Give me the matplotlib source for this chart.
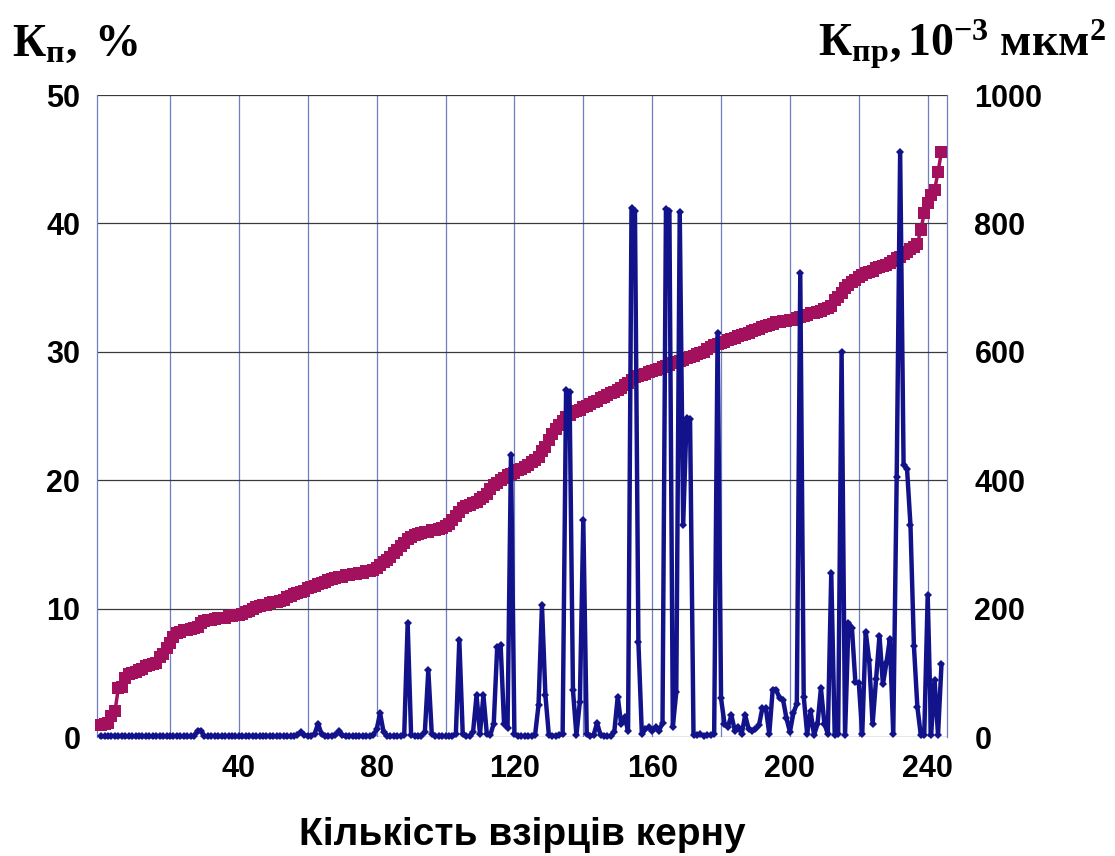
import numpy as np
import matplotlib
matplotlib.use("Agg")
from matplotlib import pyplot as plt

# porosity (left axis, %), sorted ascending
kp = [0.9, 1.0, 1.1, 1.6, 2.0, 3.8, 3.9, 4.6, 4.9, 5.0,
      5.1, 5.2, 5.3, 5.5, 5.6, 5.7, 5.8, 6.2, 6.5, 6.9,
      7.3, 7.8, 8.1, 8.2, 8.3, 8.3, 8.4, 8.5, 8.6, 8.9,
      9.0, 9.1, 9.1, 9.2, 9.3, 9.3, 9.3, 9.4, 9.4, 9.5,
      9.5, 9.6, 9.7, 9.8, 10.0, 10.1, 10.2, 10.3, 10.3, 10.4,
      10.5, 10.5, 10.6, 10.7, 10.9, 11.0, 11.1, 11.2, 11.3, 11.4,
      11.6, 11.7, 11.8, 11.9, 12.0, 12.1, 12.2, 12.3, 12.4, 12.5,
      12.5, 12.6, 12.6, 12.7, 12.7, 12.8, 12.8, 12.9, 12.9, 13.0,
      13.2, 13.4, 13.6, 13.8, 14.0, 14.3, 14.6, 14.9, 15.1, 15.4,
      15.6, 15.7, 15.8, 15.9, 16.0, 16.0, 16.1, 16.1, 16.2, 16.3,
      16.4, 16.6, 16.9, 17.2, 17.5, 17.8, 18.0, 18.1, 18.2, 18.3,
      18.5, 18.7, 18.9, 19.3, 19.6, 19.8, 20.0, 20.2, 20.4, 20.5,
      20.6, 20.8, 20.9, 21.0, 21.2, 21.4, 21.6, 21.8, 22.3, 22.6,
      23.1, 23.6, 24.0, 24.3, 24.6, 24.9, 25.1, 25.3, 25.4, 25.5,
      25.7, 25.8, 25.9, 26.1, 26.2, 26.4, 26.5, 26.6, 26.8, 26.9,
      27.0, 27.2, 27.4, 27.6, 27.8, 28.0, 28.1, 28.2, 28.3, 28.4,
      28.5, 28.6, 28.7, 28.8, 28.9, 29.0, 29.1, 29.2, 29.3, 29.4,
      29.5, 29.6, 29.7, 29.8, 29.9, 30.0, 30.2, 30.4, 30.5, 30.6,
      30.7, 30.8, 30.9, 31.0, 31.1, 31.2, 31.3, 31.4, 31.5, 31.6,
      31.7, 31.8, 31.9, 32.0, 32.1, 32.2, 32.3, 32.3, 32.4, 32.4,
      32.5, 32.5, 32.6, 32.7, 32.8, 32.9, 33.0, 33.0, 33.1, 33.2,
      33.3, 33.4, 33.6, 34.0, 34.3, 34.6, 35.0, 35.2, 35.4, 35.6,
      35.8, 36.0, 36.1, 36.2, 36.3, 36.5, 36.6, 36.7, 36.8, 36.9,
      37.1, 37.3, 37.4, 37.6, 37.8, 38.0, 38.2, 38.4, 39.5, 40.8,
      41.6, 42.2, 42.6, 44.0, 45.6]

# permeability (right axis, 10^-3 um^2), same samples
kpr = [1, 1, 1, 2, 1, 1, 2, 1, 1, 1,
       1, 2, 1, 1, 1, 1, 2, 1, 1, 1,
       1, 1, 2, 1, 1, 1, 1, 1, 10, 10,
       1, 1, 2, 1, 1, 1, 1, 2, 1, 1,
       1, 1, 1, 2, 1, 1, 1, 1, 2, 1,
       1, 1, 2, 1, 1, 1, 2, 3, 8, 3,
       2, 2, 5, 21, 4, 2, 1, 2, 3, 9,
       3, 1, 2, 1, 1, 2, 1, 2, 1, 3,
       12, 37, 8, 2, 1, 2, 1, 2, 3, 177,
       3, 2, 1, 2, 8, 104, 5, 2, 1, 2,
       1, 2, 1, 5, 151, 4, 2, 1, 8, 65,
       5, 65, 4, 3, 21, 140, 143, 20, 14, 440,
       4, 2, 1, 2, 1, 2, 3, 50, 205, 65,
       3, 2, 2, 3, 5, 540, 538, 73, 3, 55,
       338, 4, 2, 3, 22, 3, 2, 1, 2, 8,
       63, 20, 31, 10, 824, 820, 148, 5, 12, 15,
       10, 15, 10, 22, 822, 820, 16, 70, 818, 331,
       497, 495, 3, 3, 4, 2, 3, 3, 5, 630,
       60, 21, 16, 34, 10, 15, 5, 34, 13, 10,
       12, 18, 45, 45, 5, 74, 74, 60, 58, 29,
       8, 37, 52, 722, 63, 5, 40, 3, 20, 76,
       21, 5, 255, 3, 5, 600, 3, 178, 170, 85,
       84, 5, 164, 120, 20, 90, 158, 82, 115, 152,
       5, 405, 911, 424, 418, 330, 142, 47, 3, 3,
       221, 3, 89, 3, 113]

x_ticks = [40, 80, 120, 160, 200, 240]
left_ticks = [0, 10, 20, 30, 40, 50]
right_ticks = [0, 200, 400, 600, 800, 1000]

plt.rcParams['mathtext.fontset'] = 'custom'
plt.rcParams['mathtext.rm'] = 'Liberation Serif'
plt.rcParams['mathtext.bf'] = 'Liberation Serif:bold'
plt.rcParams['mathtext.it'] = 'Liberation Serif:italic'

n = np.arange(len(kp))

fig = plt.figure(figsize=(11.15, 8.56), dpi=100)
ax = fig.add_axes([0.087, 0.139, 0.762, 0.75])
ax2 = ax.twinx()

ax.plot(n, kp, color='#A3105E', linewidth=2.5, marker='s', markersize=8.5,
        markeredgewidth=0, clip_on=False, zorder=3)
ax2.plot(n, kpr, color='#12128A', linewidth=3.2, marker='D', markersize=4.5,
         markeredgewidth=0, clip_on=False, zorder=3)

ax.set_xlim(-1.2, 245.5)
ax.set_ylim(0, 50)
ax2.set_ylim(0, 1000)

ax.set_xticks(x_ticks)
ax.set_xticks(np.arange(20, 245, 20), minor=True)
ax.set_yticks(left_ticks)
ax2.set_yticks(right_ticks)

ax.grid(which='both', axis='x', color='#6F7DC2', linewidth=0.9)
ax.grid(which='major', axis='y', color='#3A3A3A', linewidth=0.9)
ax.set_axisbelow(True)

for a in (ax, ax2):
    for s in a.spines.values():
        s.set_visible(False)
for side in ('left', 'right'):
    ax.spines[side].set_visible(True)
    ax.spines[side].set_color('#6F7DC2')
    ax.spines[side].set_linewidth(0.9)

ax.tick_params(which='both', length=0, pad=12)
ax2.tick_params(which='both', length=0, pad=20)
for lab in ax.get_xticklabels() + ax.get_yticklabels() + ax2.get_yticklabels():
    lab.set_fontfamily('Liberation Sans')
    lab.set_fontweight('bold')
    lab.set_fontsize(22)

ax.set_xlabel('Кількість взірців керну', family='Liberation Sans',
              weight='bold', size=28, labelpad=24)

fig.text(0.011, 0.935, r'$\mathbf{К_{п},\ \%}$', size=33, ha='left', va='baseline')
fig.text(0.992, 0.935, r'$\mathbf{К_{пр},10^{-3}\ мкм^{2}}$', size=33,
         ha='right', va='baseline')

fig.savefig('out.png', dpi=100)
